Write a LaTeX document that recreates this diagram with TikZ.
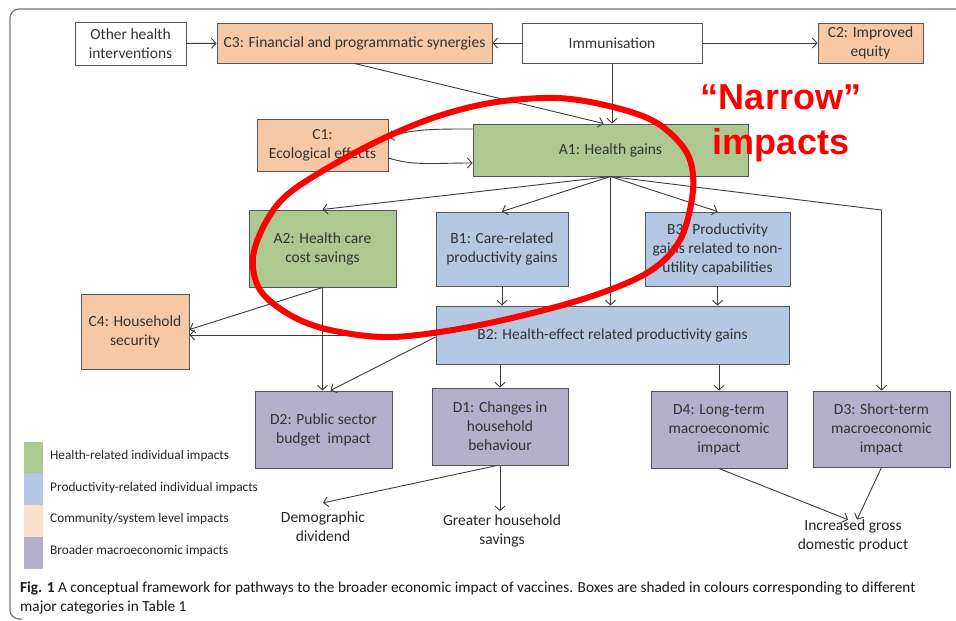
\documentclass[tikz,border=0pt]{standalone}
\usepackage{fontspec}
\setmainfont{Carlito}
\newfontfamily\redfont{Liberation Sans}
\usetikzlibrary{arrows.meta,calc}
\definecolor{gfill}{RGB}{174,200,146}
\definecolor{bfill}{RGB}{180,199,227}
\definecolor{pfill}{RGB}{246,200,166}
\definecolor{mfill}{RGB}{180,175,202}
\definecolor{lpeach}{RGB}{248,225,205}
\definecolor{bordr}{RGB}{85,85,85}
\definecolor{linec}{RGB}{60,60,60}
\tikzset{
  box/.style={draw=bordr, line width=1pt, align=center, inner sep=0pt,
    font=\fontsize{15.5}{19}\selectfont, text=black!80},
  lbl/.style={align=center, inner sep=0pt,
    font=\fontsize{15.5}{19}\selectfont, text=black!85},
  leg/.style={anchor=west, inner sep=0pt, font=\fontsize{13.3}{15}\selectfont, text=black!85},
  arr/.style={draw=linec, line width=0.9pt, -{Straight Barb[length=4.5pt,width=10pt]}},
}
\begin{document}
\begin{tikzpicture}[x=1pt,y=-1pt]
\useasboundingbox (0,0) rectangle (956,621);
% outer frame
\draw[bordr!80, line width=1.2pt, rounded corners=9pt] (956,9) -- (10,9) -- (10,619) -- (22,619);
% boxes
\node[box, fill=white, minimum width=111, minimum height=43] (oth) at (130.5,43.5) {Other health\\interventions};
\node[box, fill=pfill, minimum width=275, minimum height=40] (c3) at (354.5,43) {C3: Financial and programmatic synergies};
\node[box, fill=white, minimum width=180, minimum height=40] (imm) at (612,43) {Immunisation};
\node[box, fill=pfill, minimum width=105, minimum height=40] (c2) at (870.5,43) {C2: Improved\\equity};
\node[box, fill=pfill, minimum width=131, minimum height=52] (c1) at (322.5,145) {C1:\\Ecological effects};
\node[box, fill=gfill, minimum width=275, minimum height=52] (a1) at (610.5,150) {A1: Health gains};
\node[box, fill=gfill, minimum width=147, minimum height=77] (a2) at (322.5,248.5) {A2: Health care\\cost savings};
\node[box, fill=bfill, minimum width=132, minimum height=74] (b1) at (502,249) {B1: Care-related\\productivity gains};
\node[box, fill=bfill, minimum width=145, minimum height=74] (b3) at (717.5,249) {B3: Productivity\\gains related to non-\\utility capabilities};
\node[box, fill=pfill, minimum width=108, minimum height=75] (c4) at (135,331.5) {C4: Household\\security};
\node[box, fill=bfill, minimum width=353, minimum height=58] (b2) at (612.5,335) {B2: Health-effect related productivity gains};
\node[box, fill=mfill, minimum width=137, minimum height=77] (d2) at (323.5,429.5) {D2: Public sector\\budget~ impact};
\node[box, fill=mfill, minimum width=136, minimum height=77] (d1) at (500,426.5) {D1: Changes in\\household\\behaviour};
\node[box, fill=mfill, minimum width=136, minimum height=77] (d4) at (719,429.5) {D4: Long-term\\macroeconomic\\impact};
\node[box, fill=mfill, minimum width=137, minimum height=76] (d3) at (881.5,429) {D3: Short-term\\macroeconomic\\impact};
% outcome texts
\node[lbl, inner ysep=9pt] (dem) at (323,527) {Demographic\\dividend};
\node[lbl, inner ysep=3pt] (sav) at (502,530.5) {Greater household\\savings};
\node[lbl] (gdp) at (853,536) {Increased gross\\domestic product};
% connectors
\draw[arr] (oth) -- (c3);
\draw[arr] (imm) -- (c3);
\draw[arr] (imm) -- (c2);
\draw[arr] (imm.south) -- (imm.south |- a1.north);
\draw[arr] (c3.south) -- ($(a1.north)+(-7,0)$);
\draw[arr] ($(a1.west)+(0,-21)$) .. controls +(-40,0) and +(25,-8) .. ($(c1.east)+(0,-8)$);
\draw[arr] ($(c1.east)+(0,13)$) .. controls +(25,8) and +(-40,0) .. ($(a1.west)+(0,13)$);
\draw[arr] (a1.south) -- (a2.north);
\draw[arr] (a1.south) -- (b1.north);
\draw[arr] (a1.south) -- (b3.north);
\draw[arr] (a1.south) -- (a1.south |- b2.north);
\coordinate (d3bend) at (881.5,210);
\draw[arr] (a1.south) -- (d3bend) -- (d3.north);
\draw[arr] (b1.south) -- (b1.south |- b2.north);
\draw[arr] (b3.south) -- (b3.south |- b2.north);
\draw[arr] (a2.south) -- ($(c4.east)+(0,-2)$);
\draw[arr] (b2.west) -- (b2.west -| c4.east);
\draw[arr] (a2.south) -- (a2.south |- d2.north);
\draw[arr] ($(b2.west)+(0,2)$) -- ($(d2.north)+(7,0)$);
\draw[arr] (d1.north |- b2.south) -- (d1.north);
\draw[arr] (d4.north |- b2.south) -- (d4.north);
\draw[arr] ($(d1.south)+(-3,0)$) -- (dem.north);
\draw[arr] (d1.south) -- (d1.south |- sav.north);
\draw[arr] (d4.south) -- ($(gdp.north)+(-5,0)$);
\draw[arr] (d3.south) -- ($(gdp.north)+(4,0)$);
% legend
\fill[gfill] (24,442) rectangle (43,473);
\fill[bfill] (24,473) rectangle (43,505);
\fill[lpeach] (24,505) rectangle (43,537);
\fill[mfill] (24,537) rectangle (43,569);
\node[leg] (l1) at (50,456) {Health-related individual impacts};
\node[leg] (l2) at (50,488) {Productivity-related individual impacts};
\node[leg] (l3) at (50,519) {Community/system level impacts};
\node[leg] (l4) at (50,551) {Broader macroeconomic impacts};
% red annotation
\draw[red, line width=6pt] plot[smooth cycle, tension=0.55] coordinates {
 (253,257) (267,220) (293,190) (360,150) (427,120) (490,103) (557,98) (613,107)
 (657,123) (687,153) (693,190) (680,240) (647,273) (580,300) (480,325) (393,337)
 (330,330) (290,315) (260,290)};
\node[red, inner sep=0pt, anchor=base, font=\redfont\bfseries\fontsize{36}{40}\selectfont] (nar) at (781,109) {“Narrow”};
\node[red, inner sep=0pt, anchor=base, font=\redfont\bfseries\fontsize{36}{40}\selectfont] (imp) at (781,154) {impacts};
% caption
\node[anchor=base west, inner sep=0pt, font=\fontsize{15.3}{17}\selectfont, text=black!90] (cap1) at (20,592) {\textbf{Fig. 1} A conceptual framework for pathways to the broader economic impact of vaccines. Boxes are shaded in colours corresponding to different};
\node[anchor=base west, inner sep=0pt, font=\fontsize{15.3}{17}\selectfont, text=black!90] (cap2) at (20,611) {major categories in Table 1};
\end{tikzpicture}
\end{document}
